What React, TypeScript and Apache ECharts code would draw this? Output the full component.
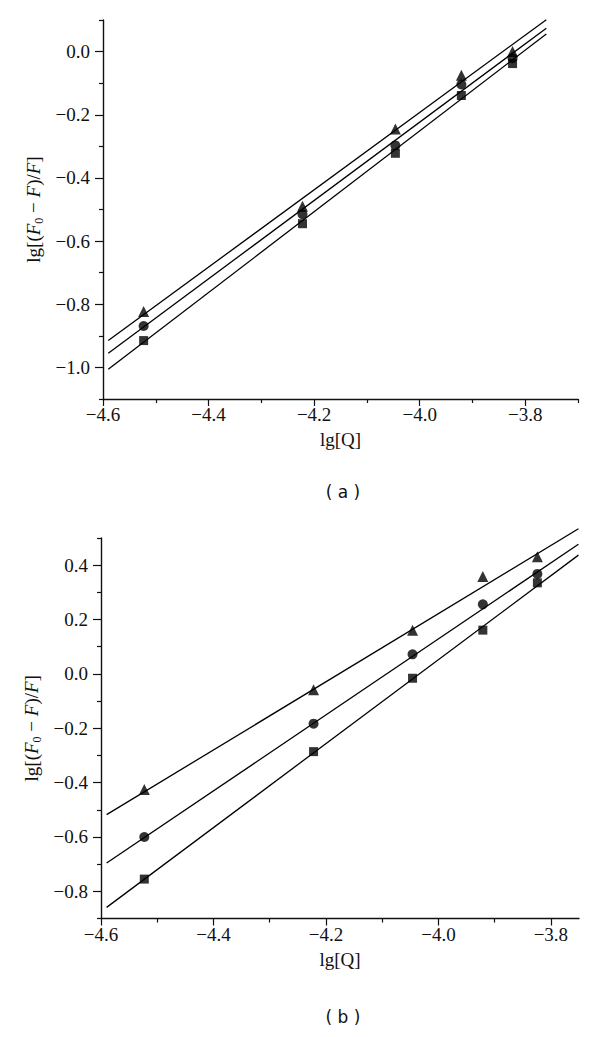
import React, { useEffect, useRef } from "react";
import * as echarts from "echarts";

// x values: lg[Q]
const lgQ = [-4.523, -4.222, -4.046, -3.921, -3.824];

// panel (a) measured points
const aTriangle = [-0.823, -0.49, -0.245, -0.075, 0.0];
const aCircle = [-0.869, -0.515, -0.297, -0.104, -0.021];
const aSquare = [-0.915, -0.545, -0.322, -0.139, -0.038];

// panel (b) measured points
const bTriangle = [-0.425, -0.058, 0.161, 0.358, 0.431];
const bCircle = [-0.6, -0.183, 0.072, 0.256, 0.368];
const bSquare = [-0.755, -0.286, -0.016, 0.161, 0.335];

// fitted lines (end points)
const aFitX = [-4.59, -3.76];
const aFitTriangle = [-0.915, 0.101];
const aFitCircle = [-0.955, 0.074];
const aFitSquare = [-1.006, 0.056];
const bFitX = [-4.59, -3.751];
const bFitTriangle = [-0.518, 0.534];
const bFitCircle = [-0.696, 0.477];
const bFitSquare = [-0.859, 0.437];

// ticks
const xMajor = [-4.6, -4.4, -4.2, -4.0, -3.8];
const xMinorA = [-4.5, -4.3, -4.1, -3.9, -3.7];
const xMinorB = [-4.5, -4.3, -4.1, -3.9];
const yMajorA = [-1.0, -0.8, -0.6, -0.4, -0.2, 0.0];
const yMinorA = [-1.1, -0.9, -0.7, -0.5, -0.3, -0.1, 0.1];
const yMajorB = [-0.8, -0.6, -0.4, -0.2, 0.0, 0.2, 0.4];
const yMinorB = [-0.9, -0.7, -0.5, -0.3, -0.1, 0.1, 0.3, 0.5];

const SERIF = "Liberation Serif";
const INK = "#111";

// label only every 0.2 (even tenths)
const fmt = (v: number) =>
  Math.abs(Math.round(v * 10)) % 2 === 0 ? v.toFixed(1).replace("-", "\u2212") : "";

const zip = (xs: number[], ys: number[]) => xs.map((x, i) => [x, ys[i]]);

const tickLabelStyle = {
  fontFamily: SERIF,
  fontSize: 19,
  color: INK,
};

function xAxesFor(grid: number, min: number, max: number, minor: number[]) {
  return [
    {
      type: "value",
      gridIndex: grid,
      min,
      max,
      interval: 0.1,
      position: "bottom",
      axisLine: { show: true, onZero: false, lineStyle: { color: INK, width: 1.4 } },
      axisTick: { show: true, customValues: minor, length: 4, lineStyle: { color: INK, width: 1.2 } },
      axisLabel: {
        formatter: fmt,
        ...tickLabelStyle,
        margin: 6,
        showMaxLabel: true,
        showMinLabel: true,
      },
      splitLine: { show: false },
      name: "lg[Q]",
      nameLocation: "middle",
      nameGap: 31,
      nameTextStyle: { fontFamily: SERIF, fontSize: 19, color: INK },
    },
    {
      type: "value",
      gridIndex: grid,
      min,
      max,
      position: "bottom",
      axisLine: { show: false, onZero: false },
      axisTick: { show: true, customValues: xMajor, length: 7, lineStyle: { color: INK, width: 1.2 } },
      axisLabel: { show: false },
      splitLine: { show: false },
    },
  ];
}

const richName = {
  n: { fontFamily: SERIF, fontSize: 19, color: INK, lineHeight: 22 },
  i: { fontFamily: SERIF, fontSize: 19, fontStyle: "italic", color: INK, lineHeight: 22 },
  s: { fontFamily: SERIF, fontSize: 12, color: INK, lineHeight: 12, verticalAlign: "bottom" },
};
const yName = "{n|lg[(}{i|F}{s|0}{n| \u2212 }{i|F}{n|)/}{i|F}{n|]}";

function yAxesFor(grid: number, min: number, max: number, major: number[], minor: number[]) {
  return [
    {
      type: "value",
      gridIndex: grid,
      min,
      max,
      interval: 0.1,
      position: "left",
      axisLine: { show: true, onZero: false, lineStyle: { color: INK, width: 1.4 } },
      axisTick: { show: true, customValues: minor, length: 4, lineStyle: { color: INK, width: 1.2 } },
      axisLabel: {
        formatter: fmt,
        ...tickLabelStyle,
        margin: 13,
        showMaxLabel: true,
        showMinLabel: true,
      },
      splitLine: { show: false },
      name: yName,
      nameLocation: "middle",
      nameRotate: 90,
      nameGap: 56,
      nameTextStyle: { fontFamily: SERIF, fontSize: 19, color: INK, rich: richName },
    },
    {
      type: "value",
      gridIndex: grid,
      min,
      max,
      position: "left",
      axisLine: { show: false, onZero: false },
      axisTick: { show: true, customValues: major, length: 8, lineStyle: { color: INK, width: 1.2 } },
      axisLabel: { show: false },
      splitLine: { show: false },
    },
  ];
}

function scatter(xi: number, yi: number, ys: number[], symbol: string, size: number) {
  return {
    type: "scatter",
    xAxisIndex: xi,
    yAxisIndex: yi,
    data: zip(lgQ, ys),
    symbol,
    symbolSize: size,
    itemStyle: { color: "#000" },
    clip: false,
    z: 3,
  };
}

function fit(xi: number, yi: number, xs: number[], ys: number[]) {
  return {
    type: "line",
    xAxisIndex: xi,
    yAxisIndex: yi,
    data: zip(xs, ys),
    showSymbol: false,
    symbol: "none",
    lineStyle: { color: "#000", width: 1.3 },
    clip: false,
    z: 2,
  };
}

const panelText = (label: string, y: number) => ({
  type: "text",
  x: 343,
  y,
  style: {
    text: label,
    align: "center",
    verticalAlign: "middle",
    fontFamily: "DejaVu Sans",
    fontSize: 17,
    fill: INK,
  },
});

export default function App() {
  const ref = useRef<HTMLDivElement>(null);
  useEffect(() => {
    if (!ref.current) return;
    const chart = echarts.init(ref.current, undefined, { renderer: "svg" });
    chart.setOption({
      animation: false,
      backgroundColor: "#fff",
      textStyle: { fontFamily: SERIF },
      grid: [
        { left: 103, top: 20, width: 475, height: 379 },
        { left: 101, top: 538, width: 478, height: 380.5 },
      ],
      xAxis: [...xAxesFor(0, -4.6, -3.7, xMinorA), ...xAxesFor(1, -4.6, -3.75, xMinorB)],
      yAxis: [...yAxesFor(0, -1.1, 0.1, yMajorA, yMinorA), ...yAxesFor(1, -0.9, 0.5, yMajorB, yMinorB)],
      series: [
        fit(0, 0, aFitX, aFitTriangle),
        fit(0, 0, aFitX, aFitCircle),
        fit(0, 0, aFitX, aFitSquare),
        scatter(0, 0, aTriangle, "triangle", 11),
        scatter(0, 0, aCircle, "circle", 10),
        scatter(0, 0, aSquare, "rect", 9),
        fit(2, 2, bFitX, bFitTriangle),
        fit(2, 2, bFitX, bFitCircle),
        fit(2, 2, bFitX, bFitSquare),
        scatter(2, 2, bTriangle, "triangle", 11),
        scatter(2, 2, bCircle, "circle", 10),
        scatter(2, 2, bSquare, "rect", 9),
      ],
      graphic: [panelText("( a )", 492), panelText("( b )", 1017)],
    });
    return () => chart.dispose();
  }, []);
  return (
    <div
      ref={ref}
      style={{ position: "absolute", left: 0, top: 0, width: 600, height: 1037, background: "#fff" }}
    />
  );
}
